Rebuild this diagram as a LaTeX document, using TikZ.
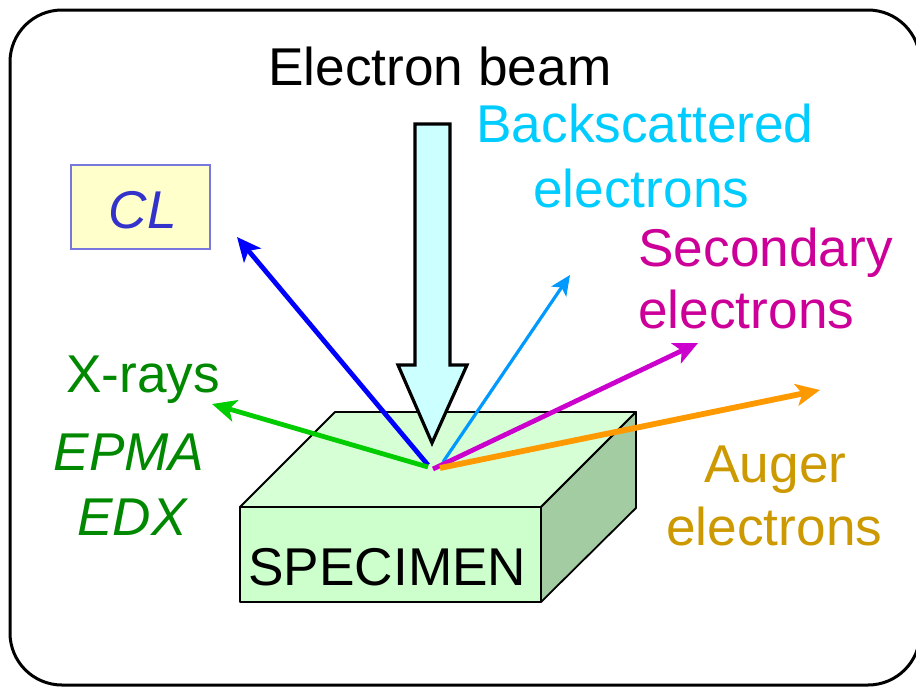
\documentclass[tikz,border=0pt]{standalone}
\usepackage{fontspec}
\setmainfont{Liberation Sans}
\usetikzlibrary{arrows.meta}
\definecolor{bscol}{HTML}{00CCFF}
\definecolor{secol}{HTML}{CC0099}
\definecolor{aucol}{HTML}{CC9900}
\definecolor{xcol}{HTML}{008800}
\definecolor{cltext}{HTML}{3333CC}
\definecolor{clbox}{HTML}{FFFFCC}
\definecolor{clborder}{HTML}{7777DD}
\definecolor{beamfill}{HTML}{CCFFFF}
\definecolor{topface}{HTML}{D6FFD6}
\definecolor{frontface}{HTML}{CCFFCC}
\definecolor{sideface}{HTML}{A3CCA3}
\definecolor{blueray}{HTML}{0000FF}
\definecolor{greenray}{HTML}{00CC00}
\definecolor{bsray}{HTML}{0099FF}
\definecolor{seray}{HTML}{CC00CC}
\definecolor{auray}{HTML}{FF9900}
\tikzset{
  lbl/.style={inner sep=0pt, font=\fontsize{26.6}{30}\selectfont, anchor=base west},
  ray/.style={line width=2.4pt, -{Stealth[length=12pt,width=11pt,inset=3pt]}},
  thinray/.style={line width=1.6pt, -{Stealth[length=10pt,width=9pt,inset=2.5pt]}},
}
\begin{document}
\begin{tikzpicture}[x=0.5pt,y=-0.5pt]
\useasboundingbox (0,0) rectangle (916,687);
% frame
\draw[line width=1.5pt, rounded corners=26pt] (10,10) rectangle (920,685);
% specimen
\coordinate (ftl) at (240,507);
\coordinate (ftr) at (541,507);
\coordinate (fbr) at (541,602);
\coordinate (fbl) at (240,602);
\coordinate (btl) at (335,412);
\coordinate (btr) at (636,412);
\coordinate (bbr) at (636,508);
\draw[fill=topface, line width=0.9pt, line join=round] (ftl) -- (btl) -- (btr) -- (ftr) -- cycle;
\draw[fill=sideface, line width=0.9pt, line join=round] (ftr) -- (btr) -- (bbr) -- (fbr) -- cycle;
\draw[fill=frontface, line width=0.9pt, line join=round] (ftl) rectangle (fbr);
\node[lbl] (spec) at (248,585) {SPECIMEN};
% beam arrow
\draw[fill=beamfill, line width=1.6pt, line join=miter]
  (415,124) -- (450,124) -- (450,365) -- (467,365) -- (432,443) -- (398,365) -- (415,365) -- cycle;
\node[lbl] (beam) at (268,85) {Electron beam};
% emission point coordinates
\coordinate (oB) at (428,465);
\coordinate (oG) at (428,467);
\coordinate (oLB) at (443,462);
\coordinate (oM) at (433,469);
\coordinate (oO) at (440,468);
\coordinate (tB) at (237,237);
\coordinate (tG) at (212,404);
\coordinate (tLB) at (570,275);
\coordinate (tM) at (698,343);
\coordinate (tO) at (820,390);
\draw[ray, blueray] (oB) -- (tB);
\draw[ray, greenray] (oG) -- (tG);
\draw[thinray, bsray] (oLB) -- (tLB);
\draw[ray, seray] (oM) -- (tM);
\draw[ray, auray, line width=2.9pt] (oO) -- (tO);
% CL box
\node[draw=clborder, fill=clbox, line width=0.8pt, minimum width=69.5pt, minimum height=42pt, inner sep=0pt] (clb) at (140.5,207) {};
\node[inner sep=0pt, font=\fontsize{26.6}{30}\selectfont\itshape, text=cltext, anchor=base] (cl) at (143,228) {CL};
% labels
\node[lbl, text=bscol] (bs1) at (476,142) {Backscattered};
\node[lbl, text=bscol] (bs2) at (533,207) {electrons};
\node[lbl, text=secol] (se1) at (638,266) {Secondary};
\node[lbl, text=secol] (se2) at (638,328) {electrons};
\node[lbl, text=xcol] (xr) at (66,392) {X-rays};
\node[lbl, text=xcol, anchor=base, font=\fontsize{26.6}{30}\selectfont\itshape] (epma) at (129,470) {EPMA};
\node[lbl, text=xcol, anchor=base, font=\fontsize{26.6}{30}\selectfont\itshape] (edx) at (132,535) {EDX};
\node[lbl, text=aucol] (au1) at (704,482) {Auger};
\node[lbl, text=aucol] (au2) at (666,545) {electrons};
\end{tikzpicture}
\end{document}
